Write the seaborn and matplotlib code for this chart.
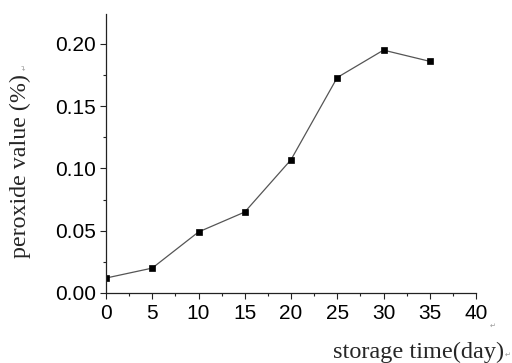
import matplotlib
matplotlib.use("Agg")
import matplotlib.pyplot as plt
from matplotlib.ticker import MultipleLocator, FormatStrFormatter
import seaborn as sns
import pandas as pd

# storage time (days) and measured peroxide value (%)
days = [0, 5, 10, 15, 20, 25, 30, 35]
peroxide = [0.012, 0.020, 0.049, 0.065, 0.107, 0.173, 0.195, 0.186]

df = pd.DataFrame({"day": days, "pv": peroxide})

sns.set_style("ticks")
plt.rcParams["font.family"] = ["Liberation Sans", "DejaVu Sans"]

fig = plt.figure(figsize=(5.12, 3.63), dpi=100)
ax = fig.add_axes([106 / 512, 70 / 363, 370 / 512, 279 / 363])

sns.lineplot(data=df, x="day", y="pv", ax=ax, color="#555555", linewidth=0.9,
             marker="s", markersize=4.5, markerfacecolor="black",
             markeredgecolor="black", markeredgewidth=0.5)

ax.set_xlim(0, 40)
ax.set_ylim(0, 0.224)
ax.xaxis.set_major_locator(MultipleLocator(5))
ax.xaxis.set_minor_locator(MultipleLocator(2.5))
ax.yaxis.set_major_locator(MultipleLocator(0.05))
ax.yaxis.set_minor_locator(MultipleLocator(0.025))
ax.yaxis.set_major_formatter(FormatStrFormatter("%.2f"))

for s in ("top", "right"):
    ax.spines[s].set_visible(False)
for s in ("left", "bottom"):
    ax.spines[s].set_color("#222222")
    ax.spines[s].set_linewidth(0.9)

ax.tick_params(which="major", direction="out", length=4, width=0.8,
               color="#222222", labelsize=15, labelcolor="black", pad=3)
ax.tick_params(axis="x", which="major", pad=4)
ax.tick_params(which="minor", direction="out", length=2.5, width=0.8,
               color="#222222")
ax.set_xlabel("")
ax.set_ylabel("")

serif = ["Liberation Serif", "DejaVu Serif"]
fig.text(20 / 512, 1 - 166 / 363, "peroxide value (%)", rotation=90,
         ha="center", va="center", fontsize=17.3, family=serif)
fig.text(504 / 512, 1 - 352 / 363, "storage time(day)", ha="right",
         va="center", fontsize=17.5, family=serif)

# small paragraph marks
mark = dict(fontsize=5, color="#999999", family=["DejaVu Sans"])
fig.text(24 / 512, 1 - 67 / 363, "\u21b5", rotation=90, ha="center",
         va="center", **mark)
fig.text(493 / 512, 1 - 326 / 363, "\u21b5", ha="center", va="center", **mark)
fig.text(508 / 512, 1 - 355 / 363, "\u21b5", ha="center", va="center", **mark)

fig.savefig("out.png", dpi=100, facecolor="white")
